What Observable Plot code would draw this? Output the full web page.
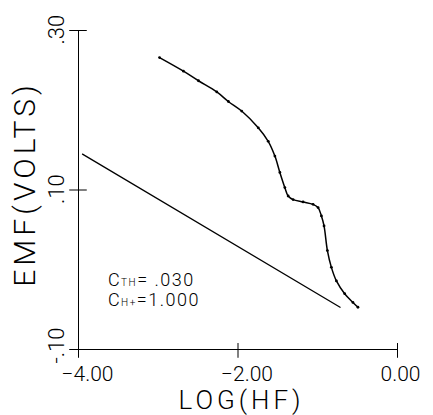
<!DOCTYPE html>
<html><head><meta charset="utf-8">
<script src="https://cdn.jsdelivr.net/npm/d3@7"></script>
<script src="https://cdn.jsdelivr.net/npm/@observablehq/plot@0.6"></script>
<style>body{margin:0;background:#fff} svg{display:block}</style>
</head><body><div id="chart"></div>
<script>
// measured titration curve (EMF vs log HF)
const curveX = [-2.984, -2.684, -2.496, -2.266, -2.121, -1.954, -1.746, -1.621, -1.5375, -1.475, -1.4125, -1.371, -1.309, -1.184, -1.059, -0.996, -0.954, -0.921, -0.879, -0.829, -0.766, -0.6625, -0.559, -0.496];
const curveY = [0.266, 0.249, 0.237, 0.223, 0.211, 0.199, 0.178, 0.161, 0.1425, 0.122, 0.103, 0.0925, 0.088, 0.085, 0.082, 0.078, 0.0675, 0.055, 0.024, 0.003, -0.014, -0.030, -0.041, -0.047];
// reference straight line
const refX = [-3.95, -0.72];
const refY = [0.145, -0.047];
// axes
const xTicks = [-4, -2, 0];
const xTickLabels = ["\u22124.00", "\u22122.00", "0.00"];
const yTicks = [-0.1, 0.1, 0.3];
const yTickLabels = ["-.10", ".10", ".30"];
const xTitle = "LOG(HF)";
const yTitle = "EMF(VOLTS)";
// annotation
const annoX = -3.625;
const annoY = [-0.021, -0.046];
const annoMain = ["C", "C"];
const annoSub = ["TH", "H+"];
const annoValue = ["= .030", "=1.000"];

const FONT = "Roboto, 'DejaVu Sans', sans-serif";
const curve = curveX.map((x, i) => ({x, y: curveY[i]}));
const ref = refX.map((x, i) => ({x, y: refY[i]}));

const plot = Plot.plot({
  width: 433, height: 415,
  marginLeft: 78, marginRight: 36, marginTop: 30, marginBottom: 66,
  style: {fontFamily: FONT, background: "#fff", color: "#000"},
  x: {domain: [-4, 0], axis: null},
  y: {domain: [-0.1, 0.3], axis: null},
  marks: [
    Plot.ruleX([-4], {y1: -0.1, y2: 0.3, stroke: "#000", strokeWidth: 1}),
    Plot.ruleY([-0.1], {x1: -4, x2: 0, stroke: "#000", strokeWidth: 1}),
    Plot.ruleY(yTicks, {x1: -4.11, x2: -3.89, stroke: "#000"}),
    Plot.ruleX(xTicks, {y1: -0.111, y2: -0.0925, stroke: "#000"}),
    Plot.text(xTicks, {x: d => d, y: -0.1, text: (d, i) => xTickLabels[i], textAnchor: "start", lineAnchor: "bottom", dx: -17, dy: 31, fontSize: 21, fontWeight: 300}),
    Plot.text(yTicks, {x: -4, y: d => d, text: (d, i) => yTickLabels[i], rotate: -90, textAnchor: "start", lineAnchor: "bottom", dx: -15, dy: 14, fontSize: 22, fontWeight: 300}),
    Plot.text([xTitle], {frameAnchor: "bottom-left", textAnchor: "start", lineAnchor: "bottom", dx: 100, dy: 59, fontSize: 26, fontWeight: 300}),
    Plot.text([yTitle], {frameAnchor: "left", rotate: -90, textAnchor: "middle", lineAnchor: "bottom", dx: -44, dy: -6, fontSize: 30, fontWeight: 300}),
    Plot.line(ref, {x: "x", y: "y", stroke: "#000", strokeWidth: 1.3}),
    Plot.line(curve, {x: "x", y: "y", stroke: "#000", strokeWidth: 1.5, curve: "catmull-rom"}),
    Plot.dot(curve, {x: "x", y: "y", r: 1.4, fill: "#000"})
  ]
});

const svg = d3.select(plot);
svg.selectAll("text").filter(function() { return this.textContent === xTitle; }).style("letter-spacing", "4px");
svg.selectAll("text").filter(function() { return this.textContent === yTitle; }).style("letter-spacing", "4px");

const sx = plot.scale("x"), sy = plot.scale("y");
const g = svg.append("g").attr("font-family", FONT).attr("font-weight", 300)
  .attr("text-anchor", "start").attr("fill", "#000");
annoY.forEach((yv, i) => {
  const t = g.append("text").attr("x", sx.apply(annoX)).attr("y", sy.apply(yv))
    .attr("font-size", 18).style("white-space", "pre").style("letter-spacing", "1.5px");
  t.append("tspan").text(annoMain[i]);
  t.append("tspan").attr("font-size", 10).text(annoSub[i]);
  t.append("tspan").attr("font-size", 18).text(annoValue[i]);
});

document.getElementById("chart").append(plot);
</script>
</body></html>
